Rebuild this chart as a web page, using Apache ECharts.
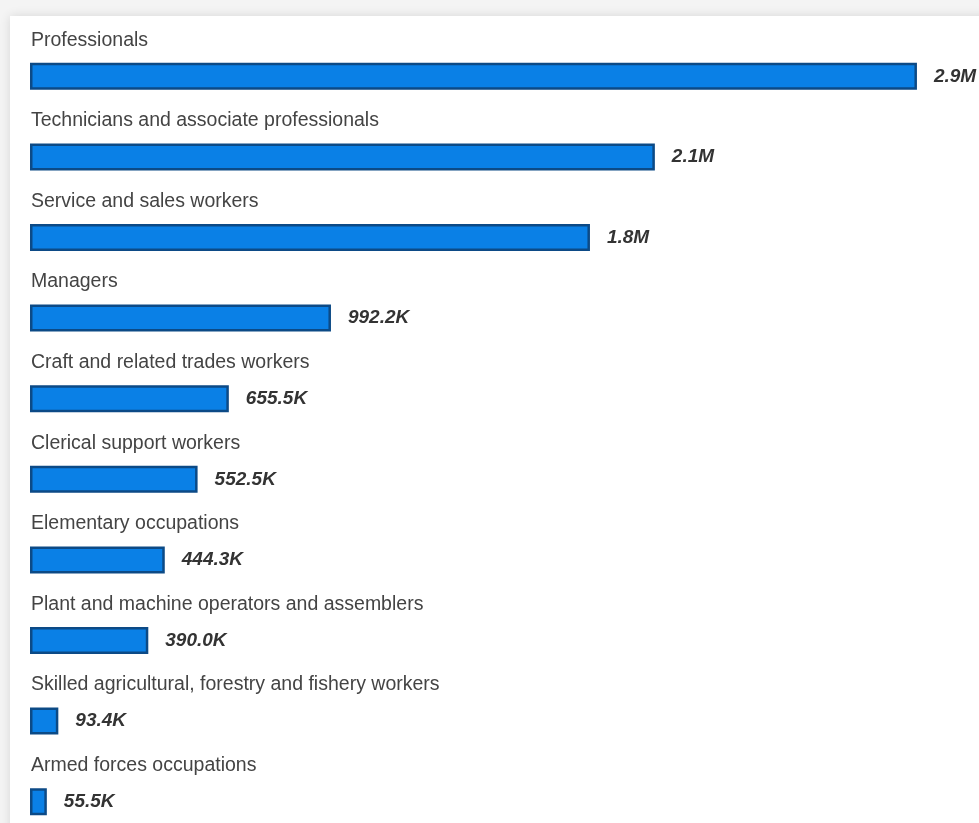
<!DOCTYPE html>
<html><head><meta charset="utf-8">
<script src="https://cdn.jsdelivr.net/npm/echarts@6/dist/echarts.min.js"></script>
<style>
html,body{margin:0;padding:0;background:#f4f4f4;overflow:hidden;width:979px;height:823px;}
#card{position:absolute;left:10px;top:16px;width:990px;height:830px;background:#fff;box-shadow:0 0 10px rgba(0,0,0,0.12);}
#chart{position:absolute;left:0;top:0;width:979px;height:860px;}
</style></head>
<body>
<div id="card"></div>
<div id="chart"></div>
<script>
const categories = [
  "Professionals",
  "Technicians and associate professionals",
  "Service and sales workers",
  "Managers",
  "Craft and related trades workers",
  "Clerical support workers",
  "Elementary occupations",
  "Plant and machine operators and assemblers",
  "Skilled agricultural, forestry and fishery workers",
  "Armed forces occupations"
];
const values = [2924000, 2060000, 1846000, 992200, 655500, 552500, 444300, 390000, 93400, 55500];

function fmt(v){
  return v >= 1e6 ? (v/1e6).toFixed(1) + 'M' : (v/1e3).toFixed(1) + 'K';
}

const chart = echarts.init(document.getElementById('chart'), null, {renderer:'canvas'});
chart.setOption({
  animation:false,
  backgroundColor:'transparent',
  grid:{left:30, width:910, top:36, height:806, containLabel:false},
  xAxis:{type:'value', min:0, max:3000000, show:false},
  yAxis:{
    type:'category', data:categories, inverse:true,
    axisLine:{show:false}, axisTick:{show:false}, splitLine:{show:false},
    axisLabel:{
      inside:true, margin:1, align:'left', verticalAlign:'bottom',
      lineHeight:72,
      fontFamily:'Liberation Sans', fontSize:19.5, color:'#444'
    }
  },
  series:[{
    type:'bar', data:values, barWidth:27,
    itemStyle:{color:'#0a80e6', borderColor:'#0c4a86', borderWidth:2.5},
    label:{
      show:true, position:'right', distance:17,
      formatter:p=>fmt(p.value),
      fontFamily:'Liberation Sans', fontSize:19, fontWeight:'bold', fontStyle:'italic', color:'#333'
    }
  }]
});
</script>
</body></html>
